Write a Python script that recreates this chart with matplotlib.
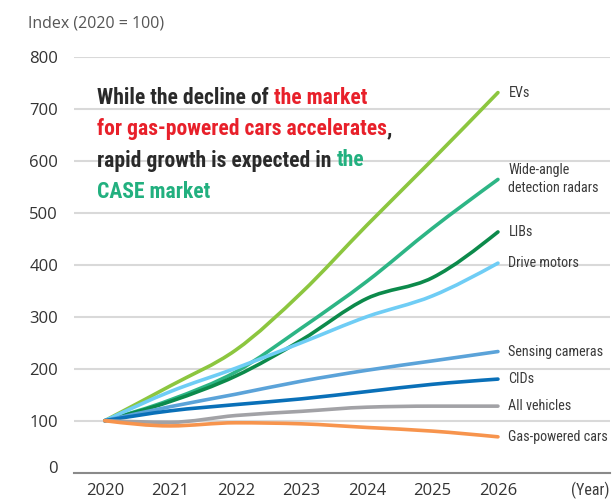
import numpy as np
import matplotlib
matplotlib.use("Agg")
import matplotlib.pyplot as plt
from matplotlib.path import Path
from matplotlib.patches import PathPatch
from matplotlib.transforms import ScaledTranslation

# Data (index, 2020 = 100)
years = [2020, 2021, 2022, 2023, 2024, 2025, 2026]
evs = [100, 167, 236, 346, 476, 602, 731]
radars = [100, 140, 194, 278, 368, 470, 564]
libs = [100, 137, 186, 255, 335, 375, 463]
drive_motors = [100, 156, 201, 250, 300, 340, 403]
sensing_cameras = [100, 127, 151, 176, 197, 215, 233]
cids = [100, 119, 131, 142, 156, 170, 180]
all_vehicles = [100, 97, 110, 118, 126, 128, 128]
gas_cars = [100, 90, 96, 94, 87, 80, 69]

series_names = ["EVs", "Wide-angle\ndetection radars", "LIBs", "Drive motors",
                "Sensing cameras", "CIDs", "All vehicles", "Gas-powered cars"]
series_values = [evs, radars, libs, drive_motors, sensing_cameras, cids,
                 all_vehicles, gas_cars]
series_colors = ["#8cc63f", "#2db585", "#0c8a4b", "#6fcdf5", "#5ba3d9",
                 "#0a70b8", "#a2a2a6", "#f7944d"]
y_ticks = [0, 100, 200, 300, 400, 500, 600, 700, 800]

NORMAL = ["Open Sans", "DejaVu Sans"]
COND = ["Roboto Condensed", "Liberation Sans Narrow", "DejaVu Sans"]


def monotone_path(x, y):
    # smooth monotone-x curve (like d3.curveMonotoneX) as cubic beziers
    x = np.asarray(x, float)
    y = np.asarray(y, float)
    n = len(x)
    h = np.diff(x)
    s = np.diff(y) / h
    t = np.zeros(n)
    for i in range(1, n - 1):
        p = (s[i - 1] * h[i] + s[i] * h[i - 1]) / (h[i - 1] + h[i])
        t[i] = (np.sign(s[i - 1]) + np.sign(s[i])) * min(abs(s[i - 1]), abs(s[i]), 0.5 * abs(p))
    t[0] = (3 * s[0] - t[1]) / 2
    t[-1] = (3 * s[-1] - t[-2]) / 2
    verts = [(x[0], y[0])]
    codes = [Path.MOVETO]
    for i in range(n - 1):
        dx = h[i] / 3
        verts += [(x[i] + dx, y[i] + dx * t[i]),
                  (x[i + 1] - dx, y[i + 1] - dx * t[i + 1]),
                  (x[i + 1], y[i + 1])]
        codes += [Path.CURVE4] * 3
    return Path(verts, codes)


fig = plt.figure(figsize=(6.14, 4.99), dpi=100)
ax = fig.add_axes([74 / 614, 26.3 / 499, 536 / 614, 416 / 499])
ax.set_xlim(2019.53, 2027.71)
ax.set_ylim(0, 800)

ax.set_yticks(y_ticks)
ax.set_xticks(years)
ax.grid(axis="y", color="#d9d9d9", linewidth=1.5)
ax.set_axisbelow(True)
for side in ["top", "right", "left"]:
    ax.spines[side].set_visible(False)
ax.spines["bottom"].set_color("#8a8a8a")
ax.spines["bottom"].set_linewidth(1.5)
ax.tick_params(axis="both", length=0, labelcolor="#333333", labelsize=12)
ax.tick_params(axis="y", pad=11.5)
ax.tick_params(axis="x", pad=7.5)
for lab in ax.get_xticklabels() + ax.get_yticklabels():
    lab.set_family(NORMAL)
# the "0" label sits a little above the baseline
zero_lab = ax.yaxis.get_major_ticks()[0].label1
zero_lab.set_transform(zero_lab.get_transform()
                       + ScaledTranslation(0, 6 / 100, fig.dpi_scale_trans))

for name, vals, color in zip(series_names, series_values, series_colors):
    patch = PathPatch(monotone_path(years, vals), fill=False, edgecolor=color,
                      linewidth=2.6, capstyle="round", joinstyle="round")
    ax.add_patch(patch)
    ax.text(years[-1] + 0.16, vals[-1], name, color="#3a3a3a", fontsize=10.2,
            family=COND, va="center", ha="left", linespacing=1.35)

fig.text(28 / 614, 1 - 28 / 499, "Index (2020 = 100)", family=NORMAL,
         fontsize=11.5, color="#555555", va="baseline", ha="left")
fig.text(610 / 614, 1 - 495 / 499, "(Year)", family=COND,
         fontsize=11.5, color="#3c3c3c", va="baseline", ha="right")

# headline with coloured phrases
dark, red, teal = "#2a2a2a", "#e8202a", "#22b07f"
headline = [
    [("While the decline of ", dark), ("the market", red)],
    [("for gas-powered cars accelerates", red), (",", dark)],
    [("rapid growth is expected in ", dark), ("the", teal)],
    [("CASE market", teal)],
]
baselines = [103.5, 135, 166.5, 198]
for parts, base in zip(headline, baselines):
    prev = None
    for txt, col in parts:
        kw = dict(fontsize=15.6, fontweight="bold", family=COND, color=col)
        if prev is None:
            prev = fig.text(97 / 614, 1 - base / 499, txt, va="baseline",
                            ha="left", **kw)
        else:
            prev = ax.annotate(txt, xy=(1, 0), xycoords=prev, va="bottom",
                               ha="left", annotation_clip=False, **kw)

fig.savefig("out.png", dpi=100)
